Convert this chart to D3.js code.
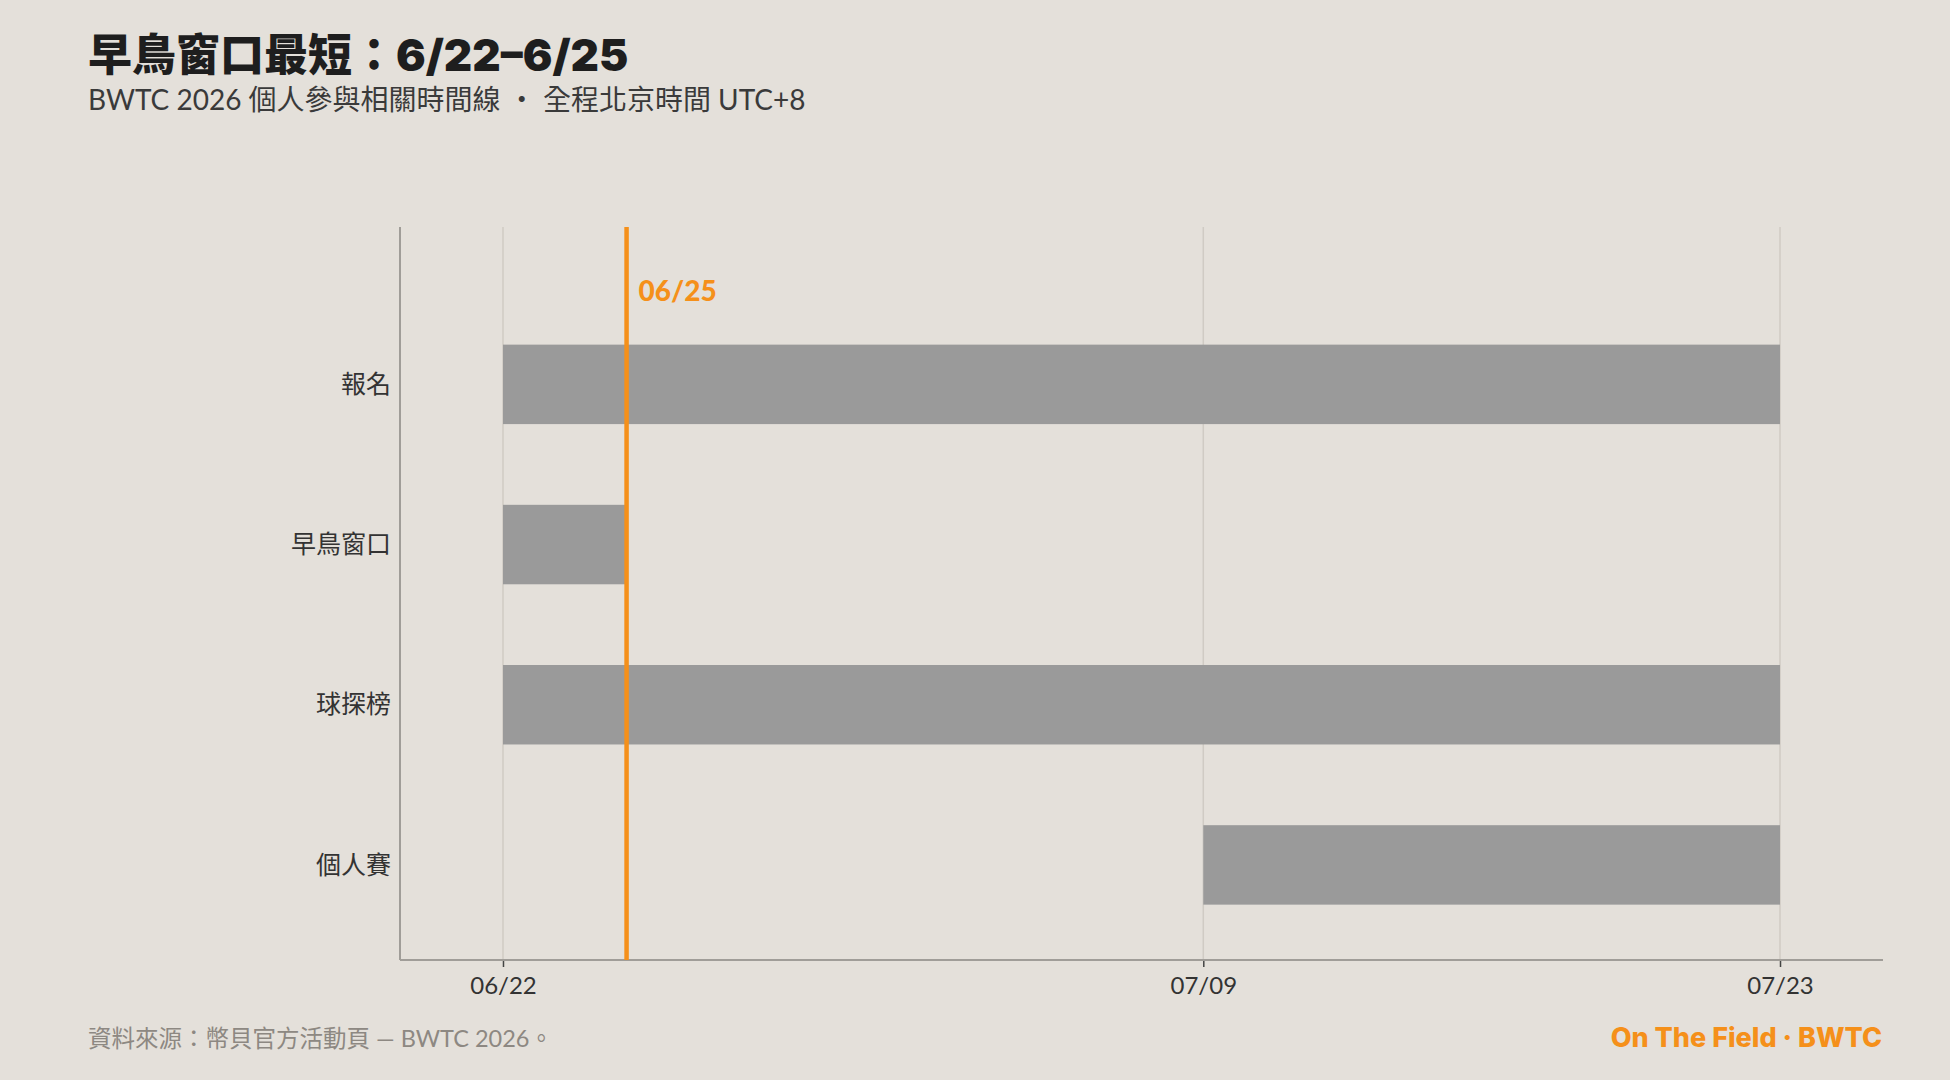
<!DOCTYPE html>
<html>
  <head>
    <title>早鳥窗口最短</title>
    <script src="https://d3js.org/d3.v7.min.js"></script>
    <style>
      body { margin: 0; background: #e4e0da; }
      svg { display: block; font-family: "Lato", "Noto Sans CJK TC", sans-serif; }
      .title { font-size: 44px; font-weight: 900; fill: #1e1e1e; font-family: "Inter", "Noto Sans CJK TC", sans-serif; }
      .subtitle { font-size: 28px; fill: #3a3a3a; }
      .row-label { font-size: 25px; fill: #333; }
      .x-axis text { font-size: 24px; fill: #333; font-family: "Lato", "Noto Sans CJK TC", sans-serif; }
      .note { font-size: 23.5px; fill: #8d8882; }
      .brand { font-size: 27px; font-weight: 800; fill: #f5901a; font-family: "Inter", sans-serif; }
    </style>
  </head>
  <body>
    <svg width="1950" height="1080"></svg>
    <script>
      // rows top to bottom
      const tracks = ["報名", "早鳥窗口", "球探榜", "個人賽"];
      const startDates = ["2026-06-22", "2026-06-22", "2026-06-22", "2026-07-09"];
      const endDates = ["2026-07-23", "2026-06-25", "2026-07-23", "2026-07-23"];
      const tickDates = ["2026-06-22", "2026-07-09", "2026-07-23"];
      const markerDate = "2026-06-25";
      const markerLabel = "06/25";

      const parse = d3.timeParse("%Y-%m-%d");
      const fmt = d3.timeFormat("%m/%d");
      const DAY = 864e5;

      const svg = d3.select("svg");
      const orange = "#f5901a";

      const plotL = 400, plotR = 1883, plotT = 227, plotB = 960;

      const first = parse(tickDates[0]), last = parse(tickDates[tickDates.length - 1]);
      const x = d3.scaleTime()
        .domain([new Date(+first - 2.5 * DAY), new Date(+last + 2.5 * DAY)])
        .range([plotL, plotR]);

      const y = d3.scaleBand()
        .domain(tracks)
        .range([plotT, plotB])
        .paddingInner(0.504)
        .paddingOuter(0.54)
        .align(0.68);

      svg.append("text").attr("class", "title")
        .attr("x", 88).attr("y", 71)
        .text("早鳥窗口最短：6/22–6/25");
      svg.append("text").attr("class", "subtitle")
        .attr("x", 88).attr("y", 110)
        .text("BWTC 2026 個人參與相關時間線 ‧ 全程北京時間 UTC+8");

      // gridlines
      svg.append("g").selectAll("line")
        .data(tickDates.map(parse))
        .join("line")
          .attr("x1", d => x(d)).attr("x2", d => x(d))
          .attr("y1", plotT).attr("y2", plotB)
          .attr("stroke", "#d0cbc4").attr("stroke-width", 1.5);

      // bars
      svg.append("g").selectAll("rect")
        .data(tracks)
        .join("rect")
          .attr("x", (d, i) => x(parse(startDates[i])))
          .attr("y", d => y(d))
          .attr("width", (d, i) => x(parse(endDates[i])) - x(parse(startDates[i])))
          .attr("height", y.bandwidth())
          .attr("fill", "#9a9a9a");

      // row labels
      svg.append("g").selectAll("text")
        .data(tracks)
        .join("text")
          .attr("class", "row-label")
          .attr("x", plotL - 9)
          .attr("y", d => y(d) + y.bandwidth() / 2)
          .attr("dy", "0.35em")
          .attr("text-anchor", "end")
          .text(d => d);

      // axes
      const xAxis = svg.append("g").attr("class", "x-axis")
        .attr("transform", `translate(0,${plotB})`)
        .call(d3.axisBottom(x).tickValues(tickDates.map(parse)).tickFormat(fmt).tickSize(7).tickPadding(10));
      xAxis.select(".domain").remove();
      xAxis.selectAll(".tick line").attr("stroke", "#444").attr("stroke-width", 1.5);

      svg.append("line")
        .attr("x1", plotL).attr("x2", plotR).attr("y1", plotB).attr("y2", plotB)
        .attr("stroke", "#a09d98").attr("stroke-width", 2);
      svg.append("line")
        .attr("x1", plotL).attr("x2", plotL).attr("y1", plotT).attr("y2", plotB)
        .attr("stroke", "#a09d98").attr("stroke-width", 2);

      // marker
      const mx = x(parse(markerDate));
      svg.append("line")
        .attr("x1", mx).attr("x2", mx).attr("y1", plotT).attr("y2", plotB)
        .attr("stroke", orange).attr("stroke-width", 4.5);
      svg.append("text")
        .attr("x", mx + 12).attr("y", 301)
        .attr("font-size", 28).attr("font-weight", 900).attr("fill", orange)
        .text(markerLabel);

      // footer
      svg.append("text").attr("class", "note")
        .attr("x", 88).attr("y", 1047)
        .text("資料來源：幣貝官方活動頁 — BWTC 2026。");
      svg.append("text").attr("class", "brand")
        .attr("x", 1882).attr("y", 1047).attr("text-anchor", "end")
        .text("On The Field · BWTC");
    </script>
  </body>
</html>
